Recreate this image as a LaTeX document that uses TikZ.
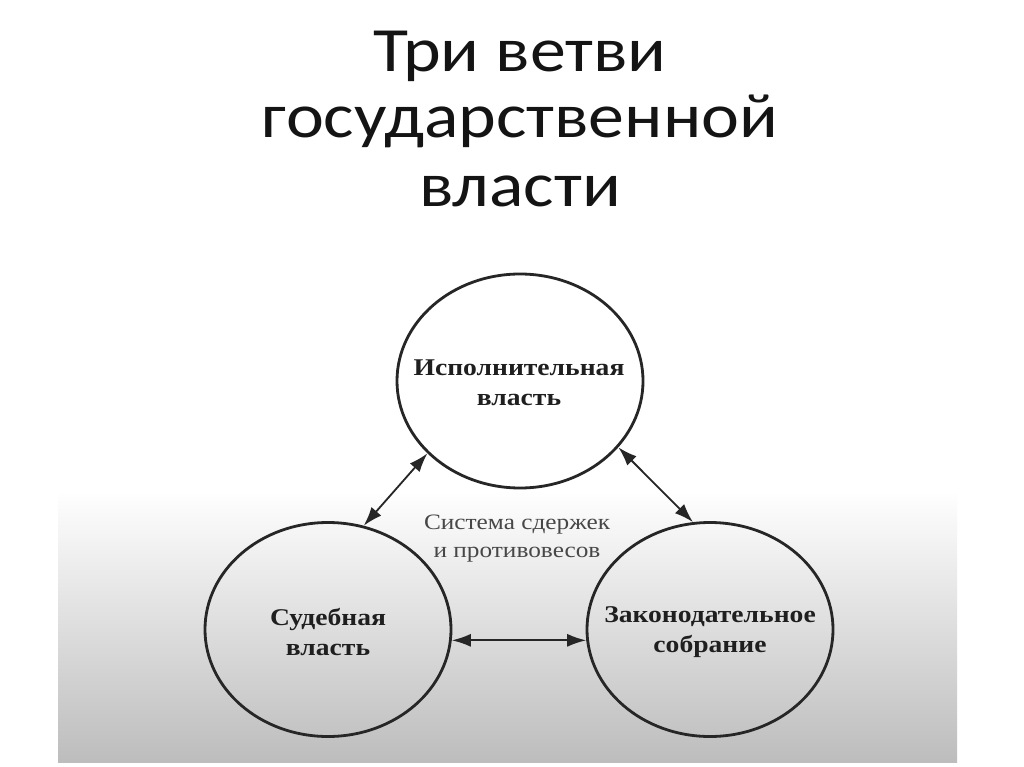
\documentclass[tikz,border=0pt]{standalone}
\usepackage{fontspec}
\setmainfont{Liberation Serif}
\newfontfamily\titlefont[FakeStretch=1.14]{Carlito}
\newfontfamily\lblfont[FakeStretch=1.15]{Liberation Serif}
\usetikzlibrary{shapes.geometric,arrows.meta}
\begin{document}
\begin{tikzpicture}[x=1pt,y=-1pt,
  branch/.style={draw=black!85, line width=2.8pt, ellipse, minimum width=246pt, minimum height=214pt, inner sep=0pt},
  lbl/.style={font=\lblfont\fontsize{24}{30}\selectfont\bfseries, align=center, text=black!88, inner sep=0pt},
  note/.style={font=\lblfont\fontsize{22}{28}\selectfont, align=center, text=black!72, inner sep=0pt},
  ttl/.style={font=\titlefont\fontsize{63}{67}\selectfont, text=black!92, anchor=base, inner sep=0pt},
  link/.style={draw=black!85, line width=1.8pt, {Latex[length=19pt,width=13pt]}-{Latex[length=19pt,width=13pt]}},
]
\fill[white] (0,0) rectangle (1024,767);
\useasboundingbox (0,0) rectangle (1024,767);
\shade[top color=white, bottom color=black!26] (58,490) rectangle (957,762);

\node[ttl] (t1) at (520,72) {Три ветви};
\node[ttl] (t2) at (520,138) {государственной};
\node[ttl] (t3) at (520,207) {власти};

\node[branch] (exec) at (520,381) {};
\node[branch] (jud) at (328,629.5) {};
\node[branch] (leg) at (710,629.5) {};

\node[lbl] (execT) at (519,383) {Исполнительная\\власть};
\node[lbl] (judT) at (328,632) {Судебная\\власть};
\node[lbl] (legT) at (710,632) {Законодательное\\собрание};
\node[note] (sys) at (517,539) {Система сдержек\\и противовесов};

\draw[link] (exec.218) -- (jud.71);
\draw[link] (exec.326) -- (leg.99);
\draw[link] (jud.-5) -- (leg.185);
\end{tikzpicture}
\end{document}
